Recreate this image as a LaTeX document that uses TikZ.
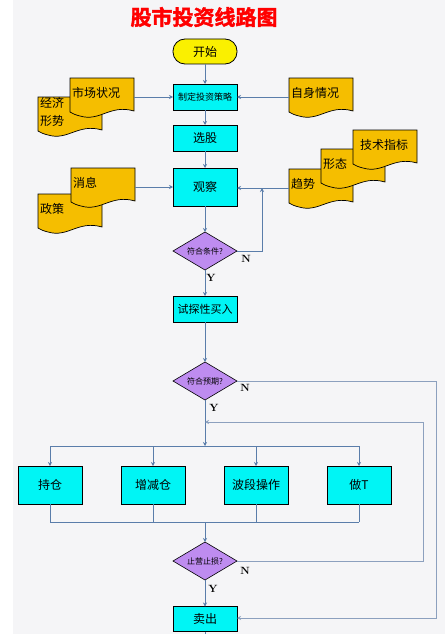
\documentclass[tikz,border=0pt]{standalone}
\usepackage{fontspec}
\usepackage{xcolor}
\usepackage{tikz}
\usetikzlibrary{arrows.meta,positioning,shapes.geometric}
\newfontfamily\cjk{Noto Sans CJK SC}
\newfontfamily\titlecjk[FakeBold=2]{Noto Sans CJK SC Bold}
\definecolor{pagegray}{RGB}{245,245,247}
\definecolor{boxcyan}{RGB}{0,245,245}
\definecolor{docorange}{RGB}{245,190,0}
\definecolor{startyellow}{RGB}{250,240,0}
\definecolor{askpurple}{RGB}{190,140,240}
\definecolor{linkblue}{RGB}{90,125,170}
\definecolor{backblue}{RGB}{140,160,190}
\newcommand{\sheet}[4]{%
  \begin{scope}[shift={(#2,#3)}]
    \draw[sheetline] (0,0) -- (64,0) -- (64,33)
      .. controls (40,26) and (30,44) .. (10,38)
      .. controls (6,37) and (3,36) .. (0,34) -- cycle;
    \node[d] (#1) at (32,19) {#4\rule[-10pt]{0pt}{0pt}};
  \end{scope}}

\begin{document}
\begin{tikzpicture}[
    x=1pt,y=-1pt,
    b/.style={rectangle,draw=black,line width=.8pt,fill=boxcyan,outer sep=0pt,
      inner sep=0pt,minimum width=64pt,minimum height=26pt,
      font=\cjk\fontsize{12}{14}\selectfont},
    tall/.style={b,minimum height=38pt},
    q/.style={diamond,draw=black,line width=.6pt,fill=askpurple,outer sep=0pt,
      inner sep=0pt,shape aspect=1.68,minimum width=64pt,minimum height=38pt,
      font=\cjk\fontsize{8}{10}\selectfont},
    d/.style={rectangle,outer sep=0pt,inner sep=2pt,text width=60pt,minimum height=38pt,
      align=left,font=\cjk\fontsize{12}{18}\selectfont},
    sheetline/.style={draw=black,line width=.7pt,fill=docorange},
    yn/.style={font=\fontsize{10.5}{12}\selectfont\bfseries,inner sep=0pt},
    a/.style={-{Stealth[length=4pt,width=4pt]},linkblue,line width=.7pt},
    l/.style={linkblue,line width=.7pt},
    back/.style={a,backblue,line width=.8pt}]
    \useasboundingbox (0,0) rectangle (445,634);
    \fill[white] (0,0) rectangle (445,634);
    \fill[pagegray] (13,0) rectangle (445,634);

    \node[font=\titlecjk\fontsize{21}{24}\selectfont,text=red,inner sep=0pt] (title) at (204,17) {股市投资线路图};

    % main column
    \node[b,fill=startyellow,rounded corners=12pt,minimum height=25pt] (start) at (205,51.5) {开始};
    \node[b,below=20pt of start,font=\cjk\fontsize{9}{10}\selectfont] (plan) {制定投资策略};
    \node[b,below=15pt of plan] (pick) {选股};
    \node[tall,below=17pt of pick] (watch) {观察};
    \node[q,below=26pt of watch] (fit) {符合条件?};
    \node[b,below=26pt of fit,font=\cjk\fontsize{11}{13}\selectfont] (trybuy) {试探性买入};
    \node[q,below=40pt of trybuy] (expect) {符合预期?};

    % the four ways
    \node[tall] (hold) at (50,485) {持仓};
    \node[tall] (resize) at (153,485) {增减仓};
    \node[tall] (swing) at (256,485) {波段操作};
    \node[tall] (dot) at (359,485) {做T};
    \node[q] (stop) at (205,561) {止营止损?};
    \node[b,minimum height=25pt] (sell) at (205,619) {卖出};

    % documents
    \sheet{econ}{38}{97}{经济\\形势}
    \sheet{market}{70}{78}{市场状况}
    \sheet{self}{289}{78}{自身情况}
    \sheet{policy}{38}{194}{政策}
    \sheet{news}{71}{168}{消息}
    \sheet{trend}{289}{169}{趋势}
    \sheet{shape}{321}{149}{形态}
    \sheet{tech}{353}{130}{\hspace*{5pt}技术指标}

    \coordinate (branch) at (205,446);
    \coordinate (merge) at (205,522);
    \coordinate (retry) at (262,188);
    \coordinate (again) at (205,422);
    \coordinate (sellout) at (205,634);

    \draw[a](start)--(plan); \draw[a](plan)--(pick); \draw[a](pick)--(watch);
    \draw[a](watch)--(fit); \draw[a](fit)--(trybuy); \draw[a](trybuy)--(expect);
    \draw[a](market)--(plan); \draw[a](self)--(plan);
    \draw[a](news.east)--(watch.west|-news.east); \draw[a](trend.west)--(watch.east|-trend.west);
    \draw[a](fit.east)-|(retry);
    \draw[a](expect)--(branch);
    \draw[l](branch-|hold)--(branch-|dot);
    \foreach \way in {hold,resize,swing,dot}{
      \draw[a](branch-|\way)--(\way);
      \draw[l](\way)--(merge-|\way);
    }
    \draw[l](merge-|hold)--(merge-|dot);
    \draw[a](merge)--(stop);
    \draw[a](stop)--(sell);
    \draw[l](sell)--(sellout);
    \draw[back](stop.east)-|(423,422)--(again);
    \draw[back](expect.east)-|(436,618)--(sell.east|-436,618);

    \node[yn] (fitn) at (246,259) {N};
    \node[yn] (fity) at (211,278) {Y};
    \node[yn] (expectn) at (245,388) {N};
    \node[yn] (expecty) at (214,408) {Y};
    \node[yn] (stopn) at (245,571) {N};
    \node[yn] (stopy) at (213,589) {Y};
  \end{tikzpicture}
\end{document}
